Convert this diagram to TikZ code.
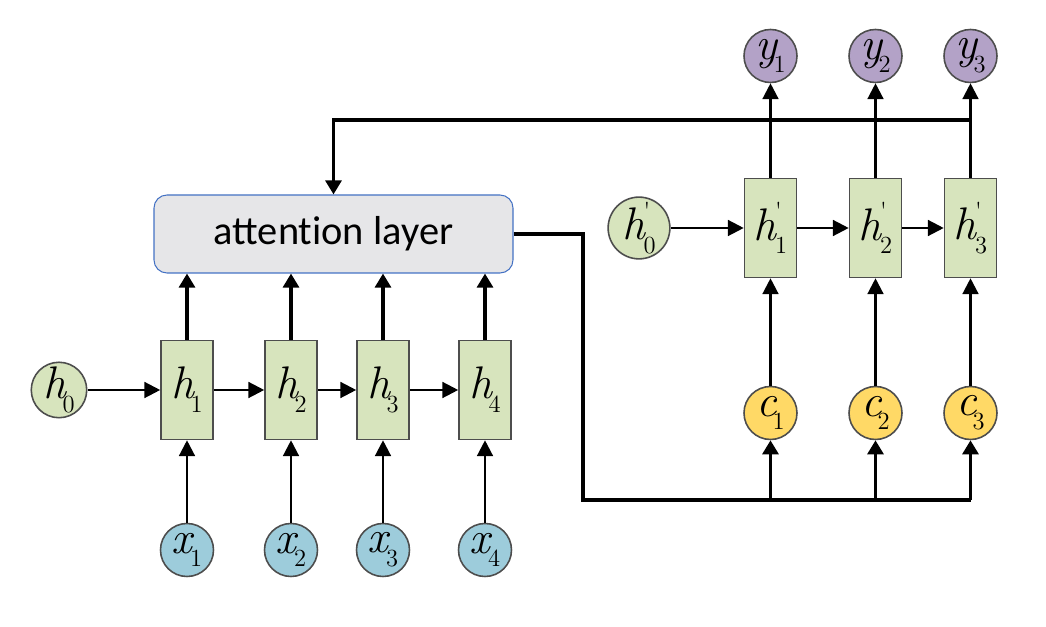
\documentclass[tikz,border=0pt]{standalone}
\usepackage{fontspec}
\newfontfamily\attfont{Carlito}
\usetikzlibrary{arrows.meta,positioning}
\definecolor{cellgreen}{HTML}{D7E4BD}
\definecolor{edgegray}{HTML}{4D4D4D}
\definecolor{inblue}{HTML}{9DCCDB}
\definecolor{outpurple}{HTML}{B3A2C7}
\definecolor{ctxyellow}{HTML}{FFD966}
\definecolor{attgray}{HTML}{E6E6E8}
\definecolor{attblue}{HTML}{4472C4}
\newcommand{\lab}[2]{\textit{#1}\kern-0.1em\raisebox{-0.3em}{\fontsize{14}{14}\selectfont #2}}
\newcommand{\labp}[2]{\textit{#1}\kern-0.06em\rlap{\raisebox{0.45em}{\fontsize{14}{14}\selectfont\textquotesingle}}\raisebox{-0.3em}{\fontsize{14}{14}\selectfont #2}}

\begin{document}
\begin{tikzpicture}[-,node distance=2cm,
    cell node/.style={rectangle, draw=edgegray, line width=0.9pt, fill=cellgreen, minimum width=1.04cm, minimum height=1.98cm, inner sep=0pt, font=\fontsize{26}{26}\selectfont},
    var node/.style={circle, draw=edgegray, line width=0.9pt, minimum size=1.06cm, inner sep=0pt, font=\fontsize{26}{26}\selectfont},
    att node/.style={rectangle, rounded corners=0.26cm, draw=attblue, line width=0.6pt, fill=attgray, minimum width=7.18cm, minimum height=1.56cm, font=\attfont\fontsize{23}{23}\selectfont},
    thin arrow/.style={line width=1.3pt, -{Triangle[length=9pt,width=9pt]}},
    thick arrow/.style={line width=2.2pt, -{Triangle[length=8pt,width=9pt]}},
    bus line/.style={line width=2.2pt}]
    \useasboundingbox (0,0) rectangle (20.92,-12.54);
    %编码器
    \node [cell node](h1) at (3.74,-7.8) {\lab{h}{1}};
    \node [cell node](h2) [right of = h1, xshift = 0.08cm] {\lab{h}{2}};
    \node [cell node](h3) [right of = h2, xshift = -0.16cm] {\lab{h}{3}};
    \node [cell node](h4) [right of = h3, xshift = 0.04cm] {\lab{h}{4}};
    \node [var node, fill=cellgreen](h0) [left of = h1, xshift = -0.56cm] {\lab{h}{0}};
    \foreach \i in {1,...,4}
        \node [var node, fill=inblue](x\i) [below of = h\i, yshift = -1.2cm] {\lab{x}{\i}};
    \node [att node](att) at (6.67,-4.68) {attent\kern0pt ion layer};
    %解码器
    \node [cell node](hp1) at (15.41,-4.56) {\labp{h}{1}};
    \node [cell node](hp2) [right of = hp1, xshift = 0.1cm] {\labp{h}{2}};
    \node [cell node](hp3) [right of = hp2, xshift = -0.1cm] {\labp{h}{3}};
    \node [var node, fill=cellgreen](hp0) [left of = hp1, xshift = -0.63cm] {\labp{h}{0}};
    \foreach \i in {1,2,3} {
        \node [var node, fill=outpurple](y\i) [above of = hp\i, yshift = 1.44cm] {\lab{y}{\i}};
        \node [var node, fill=ctxyellow](c\i) [below of = hp\i, yshift = -1.7cm] {\lab{c}{\i}};
    }
    \path (hp3) ++(0,2.16) coordinate (tap);
    \coordinate (bus) at (11.66,-10.0);

    \draw [thin arrow](h0) -- (h1);
    \foreach \a/\b in {1/2,2/3,3/4}
        \draw [thin arrow](h\a) -- (h\b);
    \foreach \i in {1,...,4} {
        \draw [thin arrow](x\i) -- (h\i);
        \draw [thick arrow](h\i) -- (h\i |- att.south);
    }
    \draw [thin arrow](hp0) -- (hp1);
    \foreach \a/\b in {1/2,2/3}
        \draw [thin arrow](hp\a) -- (hp\b);
    \foreach \i in {1,2,3} {
        \draw [thin arrow](c\i) -- (hp\i);
        \draw [thin arrow](hp\i) -- (y\i);
        \draw [thick arrow](bus -| c\i) -- (c\i);
    }
    \draw [thick arrow](tap) -| (att.north);
    \draw [bus line](att.east) -| (bus) -- (bus -| c3);
\end{tikzpicture}
\end{document}
